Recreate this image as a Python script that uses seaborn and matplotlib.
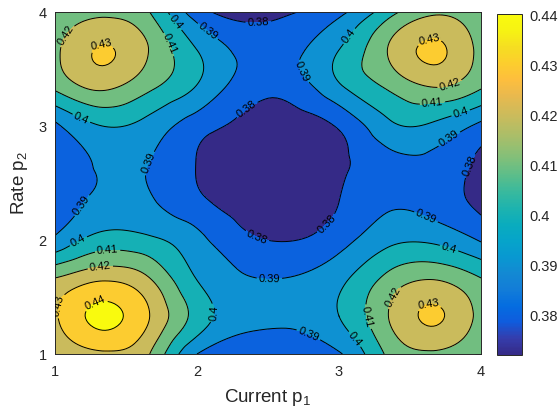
import numpy as np
import matplotlib
matplotlib.use("Agg")
import matplotlib.pyplot as plt
import matplotlib.tri as mtri
from matplotlib.colors import LinearSegmentedColormap, Normalize
import seaborn as sns

# Grid of operating points
current_p1 = [1.0, 1.333, 1.667, 2.0, 2.5, 3.0, 3.333, 3.667, 4.0]
rate_p2 = [1.0, 1.333, 1.667, 2.0, 2.333, 2.667, 3.0, 3.333, 3.667, 4.0]

# Objective value at each (p1, p2); one row per rate_p2 value, bottom to top
obj_p2_100 = [0.421, 0.428, 0.420, 0.390, 0.3862, 0.389, 0.411, 0.418, 0.410]
obj_p2_133 = [0.4285, 0.4423, 0.430, 0.406, 0.3918, 0.400, 0.419, 0.4312, 0.416]
obj_p2_167 = [0.420, 0.428, 0.420, 0.3995, 0.3898, 0.397, 0.412, 0.419, 0.410]
obj_p2_200 = [0.392, 0.404, 0.402, 0.393, 0.3799, 0.386, 0.397, 0.398, 0.389]
obj_p2_233 = [0.386, 0.392, 0.391, 0.3825, 0.3741, 0.3800, 0.388, 0.386, 0.3775]
obj_p2_267 = [0.385, 0.3910, 0.3898, 0.3797, 0.3725, 0.3779, 0.386, 0.387, 0.3772]
obj_p2_300 = [0.388, 0.400, 0.396, 0.3845, 0.3752, 0.3812, 0.397, 0.398, 0.3875]
obj_p2_333 = [0.4115, 0.4215, 0.4115, 0.399, 0.382, 0.398, 0.4105, 0.4195, 0.4105]
obj_p2_367 = [0.4175, 0.4307, 0.4195, 0.400, 0.3855, 0.400, 0.4195, 0.4316, 0.416]
obj_p2_400 = [0.4115, 0.417, 0.410, 0.3845, 0.3775, 0.3875, 0.405, 0.418, 0.4105]

contour_levels = [0.38, 0.39, 0.40, 0.41, 0.42, 0.43, 0.44]
cbar_ticks = [0.38, 0.39, 0.40, 0.41, 0.42, 0.43, 0.44]
axis_ticks = [1, 2, 3, 4]
color_limits = (0.372, 0.4403)

# Where the inline contour labels sit (p1, p2)
label_spots = [
    (2.43, 3.95), (1.83, 3.89), (2.07, 3.82), (1.76, 3.69), (1.13, 3.75),
    (1.33, 3.69), (1.19, 3.08), (2.39, 3.08), (1.65, 2.68),
    (3.08, 3.78), (2.73, 3.47), (3.64, 3.73), (3.77, 3.40), (3.66, 3.18),
    (3.85, 3.14), (3.78, 2.88), (3.94, 2.64),
    (1.18, 2.31), (1.16, 2.00), (1.37, 1.91), (1.32, 1.75), (1.08, 1.41),
    (1.30, 1.40), (2.11, 1.36), (2.42, 2.02),
    (2.94, 2.11), (2.51, 1.62), (3.63, 2.25), (3.77, 1.91), (3.38, 1.50),
    (3.18, 1.32), (3.64, 1.36), (2.80, 1.21), (3.13, 1.15),
]

# Parula-style colormap
parula_rgb = [
    (0.2081, 0.1663, 0.5292), (0.2081, 0.2386, 0.6771), (0.0591, 0.3598, 0.8683),
    (0.0165, 0.4266, 0.8786), (0.0723, 0.4887, 0.8467), (0.0749, 0.5375, 0.8263),
    (0.0343, 0.5966, 0.8199), (0.0231, 0.6418, 0.7913), (0.0384, 0.6743, 0.7436),
    (0.1133, 0.7015, 0.6859), (0.2178, 0.7250, 0.6193), (0.3482, 0.7424, 0.5473),
    (0.4871, 0.7491, 0.4840), (0.6099, 0.7473, 0.4337), (0.7184, 0.7411, 0.3905),
    (0.8185, 0.7327, 0.3498), (0.9139, 0.7258, 0.3063), (0.9938, 0.7455, 0.2403),
    (0.9880, 0.8066, 0.1794), (0.9626, 0.8705, 0.1309), (0.9661, 0.9514, 0.0755),
    (0.9763, 0.9831, 0.0538),
]
parula = LinearSegmentedColormap.from_list("parula", parula_rgb, N=256)

sns.set_theme(style="white")
plt.rcParams["font.family"] = ["Liberation Sans", "DejaVu Sans"]
plt.rcParams["mathtext.default"] = "regular"
ink = "#262626"

fig = plt.figure(figsize=(5.58, 4.15), dpi=100)
W, H = 558.0, 415.0
ax = fig.add_axes([55 / W, 1 - 354 / H, 426 / W, 342 / H])

X, Y = np.meshgrid(current_p1, rate_p2)
Z = np.array([obj_p2_100, obj_p2_133, obj_p2_167, obj_p2_200, obj_p2_233,
              obj_p2_267, obj_p2_300, obj_p2_333, obj_p2_367, obj_p2_400])

triang = mtri.Triangulation(X.ravel(), Y.ravel())
interp = mtri.CubicTriInterpolator(triang, Z.ravel(), kind="min_E")
refiner = mtri.UniformTriRefiner(triang)
tri_f, z_f = refiner.refine_field(Z.ravel(), triinterpolator=interp, subdiv=4)

norm = Normalize(*color_limits)
fill_bounds = [min(float(z_f.min()), 0.37) - 0.001] + contour_levels + \
              [max(float(z_f.max()), 0.45) + 0.001]
band_colors = [parula(norm(color_limits[0]))] + [parula(norm(v)) for v in contour_levels]

ax.tricontourf(tri_f, z_f, levels=fill_bounds, colors=band_colors)
cs = ax.tricontour(tri_f, z_f, levels=contour_levels, colors="black", linewidths=0.7)
ax.clabel(cs, fmt=lambda v: f"{v:g}", fontsize=8, inline=True, inline_spacing=2,
          manual=label_spots)

ax.set_xlim(1, 4)
ax.set_ylim(1, 4)
ax.set_xticks(axis_ticks)
ax.set_yticks(axis_ticks)
ax.set_xticklabels([str(t) for t in axis_ticks])
ax.set_yticklabels([str(t) for t in axis_ticks])
ax.tick_params(direction="in", length=4, width=0.6, colors=ink, labelsize=10.5,
               top=True, right=True)
ax.tick_params(axis="x", pad=8)
ax.tick_params(axis="y", pad=6)
for s in ax.spines.values():
    s.set_color(ink)
    s.set_linewidth(0.7)
ax.set_xlabel("Current p$_1$", fontsize=13.5, color=ink, labelpad=6)
ax.set_ylabel("Rate p$_2$", fontsize=13.5, color=ink, labelpad=6)

cax = fig.add_axes([497 / W, 1 - 355 / H, 25 / W, 341 / H])
sm = plt.cm.ScalarMappable(norm=norm, cmap=parula)
cb = fig.colorbar(sm, cax=cax, ticks=cbar_ticks)
cb.ax.set_yticklabels([f"{t:g}" for t in cbar_ticks])
cb.ax.tick_params(direction="in", length=3, width=0.6, colors=ink, labelsize=10.5, pad=5)
cb.outline.set_edgecolor(ink)
cb.outline.set_linewidth(0.7)

fig.savefig("out.png", dpi=100, facecolor="white")
